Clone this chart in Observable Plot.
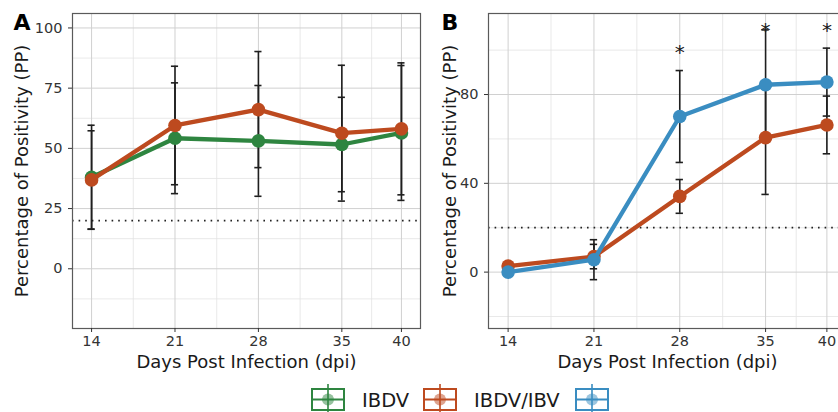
<!DOCTYPE html>
<html><head><meta charset="utf-8">
<script src="https://cdn.jsdelivr.net/npm/d3@7"></script>
<script src="https://cdn.jsdelivr.net/npm/@observablehq/plot@0.6"></script>
<style>
body{margin:0;background:#fff;overflow:hidden;font-family:"DejaVu Sans",sans-serif;}
#wrap{position:relative;width:838px;height:412px;overflow:hidden;background:#fff;}
#a{position:absolute;left:0;top:0;width:420px;}
#b{position:absolute;left:420px;top:0;width:426px;}
#leg{position:absolute;left:0;top:372px;}
svg{overflow:visible;max-width:none !important;}
</style></head><body><div id="wrap"><div id="a"></div><div id="b"></div><div id="leg"></div></div>
<script>
// ---- data ----
const days = [14, 21, 28, 35, 40];
const groups = ["IBDV", "IBDV/IBV", "IBV"];
const colors = ["#2E8540", "#BD4A1F", "#3A8DC1"];
// Panel A
const ibdvA = [38.0, 54.2, 53.1, 51.6, 56.4];
const ibdvA_sd = [21.6, 23.0, 23.0, 19.6, 28.0];
const coinfA = [36.9, 59.5, 66.1, 56.3, 58.1];
const coinfA_sd = [20.4, 24.6, 24.1, 28.2, 27.4];
// Panel B
const coinfB = [2.7, 7.0, 34.1, 60.6, 66.3];
const coinfB_sd = [1.0, 5.5, 7.6, 25.6, 13.0];
const ibvB = [0.0, 5.6, 70.1, 84.4, 85.6];
const ibvB_sd = [1.0, 9.0, 20.7, 24.7, 15.3];
// significance marks (panel B)
const starDays = [28, 35, 40];
const starY = [101, 111, 111];
// ticks
const xTicks = [14, 21, 28, 35, 40];
const xMinor = [17.5, 24.5, 31.5, 37.5];
const yTicksA = [0, 25, 50, 75, 100];
const yMinorA = [-12.5, 12.5, 37.5, 62.5, 87.5];
const yTicksB = [0, 40, 80];
const yMinorB = [-20, 20, 60, 100];
const threshold = 20;
const legendLabels = ["IBDV", "IBDV/IBV"];

const colorOf = g => colors[groups.indexOf(g)];

function panel({series, yDomain, yTicks, yMinor, width, marginLeft, tag, stars}) {
  const marks = [
    Plot.ruleX(xMinor, {stroke: "#e3e3e3", strokeWidth: 0.8}),
    Plot.ruleY(yMinor, {stroke: "#e3e3e3", strokeWidth: 0.8}),
    Plot.ruleX(xTicks, {stroke: "#d0d0d0", strokeWidth: 1}),
    Plot.ruleY(yTicks, {stroke: "#d0d0d0", strokeWidth: 1}),
    Plot.ruleY([threshold], {stroke: "#222", strokeWidth: 1.8, strokeDasharray: "1.6,5"})
  ];
  for (const s of series) {
    const rows = days.map((d, i) => ({day: d, mean: s.mean[i], sd: s.sd[i]}));
    const capw = 0.3;
    marks.push(
      Plot.ruleX(rows, {x: "day", y1: d => d.mean - d.sd, y2: d => d.mean + d.sd, stroke: "#1f1f1f", strokeWidth: 1.6}),
      Plot.ruleY(rows, {y: d => d.mean + d.sd, x1: d => d.day - capw, x2: d => d.day + capw, stroke: "#1f1f1f", strokeWidth: 1.6}),
      Plot.ruleY(rows, {y: d => d.mean - d.sd, x1: d => d.day - capw, x2: d => d.day + capw, stroke: "#1f1f1f", strokeWidth: 1.6})
    );
  }
  for (const s of series) {
    const rows = days.map((d, i) => ({day: d, mean: s.mean[i]}));
    marks.push(
      Plot.line(rows, {x: "day", y: "mean", stroke: colorOf(s.name), strokeWidth: 4.3}),
      Plot.dot(rows, {x: "day", y: "mean", fill: colorOf(s.name), r: 6.8})
    );
  }
  if (stars) {
    marks.push(Plot.text(starDays.map((d, i) => ({day: d, y: starY[i]})), {x: "day", y: "y", text: () => "*", fontSize: 20, dy: 5, fill: "#1a1a1a"}));
  }
  marks.push(
    Plot.frame({stroke: "#5a5a5a", strokeWidth: 1.2}),
    Plot.axisX(xTicks, {tickSize: 4, tickPadding: 3, fontSize: 14.5, color: "#333", label: null}),
    Plot.axisY(yTicks, {tickSize: 4, tickPadding: 6, fontSize: 14.5, color: "#333", label: null}),
    Plot.text(["Days Post Infection (dpi)"], {frameAnchor: "bottom", dy: 39, fontSize: 18, fill: "#1a1a1a"}),
    Plot.text(["Percentage of Positivity (PP)"], {frameAnchor: "left", textAnchor: "middle", rotate: -90, dx: tag === "A" ? -50 : -38, fontSize: 18, fill: "#1a1a1a"}),
    Plot.text([tag], {frameAnchor: "top-left", textAnchor: "start", lineAnchor: "bottom", dx: tag === "A" ? -59 : -47, dy: 16, fontSize: 22, fontWeight: "bold", fill: "#000"})
  );
  return Plot.plot({
    width, height: 372,
    marginLeft, marginRight: 0, marginTop: 13, marginBottom: 44,
    style: {fontFamily: "DejaVu Sans, sans-serif", background: "transparent", overflow: "visible", maxWidth: "none"},
    x: {domain: [12.4, 41.6], axis: null},
    y: {domain: yDomain, axis: null},
    marks
  });
}

document.getElementById("a").append(panel({
  series: [{name: "IBDV", mean: ibdvA, sd: ibdvA_sd}, {name: "IBDV/IBV", mean: coinfA, sd: coinfA_sd}],
  yDomain: [-24.8, 106], yTicks: yTicksA, yMinor: yMinorA, width: 420, marginLeft: 72, tag: "A"
}));
document.getElementById("b").append(panel({
  series: [{name: "IBDV/IBV", mean: coinfB, sd: coinfB_sd}, {name: "IBV", mean: ibvB, sd: ibvB_sd}],
  yDomain: [-25.4, 116.5], yTicks: yTicksB, yMinor: yMinorB, width: 426, marginLeft: 68, tag: "B", stars: true
}));

// ---- legend ----
const leg = d3.select("#leg").append("svg").attr("width", 838).attr("height", 40)
  .style("font-family", "DejaVu Sans, sans-serif");
const keyX = [312, 424, 576];
groups.forEach((g, i) => {
  const c = colors[i];
  const k = leg.append("g").attr("transform", `translate(${keyX[i]},17)`);
  k.append("rect").attr("x", 0).attr("y", 0).attr("width", 32).attr("height", 21)
    .attr("fill", "#fff").attr("stroke", c).attr("stroke-width", 2);
  k.append("line").attr("x1", 16).attr("x2", 16).attr("y1", -5).attr("y2", 26).attr("stroke", c).attr("stroke-width", 1.6);
  k.append("line").attr("x1", 0).attr("x2", 32).attr("y1", 10.5).attr("y2", 10.5).attr("stroke", c).attr("stroke-width", 2);
  k.append("circle").attr("cx", 16).attr("cy", 10.5).attr("r", 6).attr("fill", c).attr("fill-opacity", 0.5);
  if (legendLabels[i]) {
    leg.append("text").attr("x", keyX[i] + 50).attr("y", 34.5).attr("font-size", 19.5)
      .attr("fill", "#1a1a1a").text(legendLabels[i]);
  }
});
</script>
</body></html>
